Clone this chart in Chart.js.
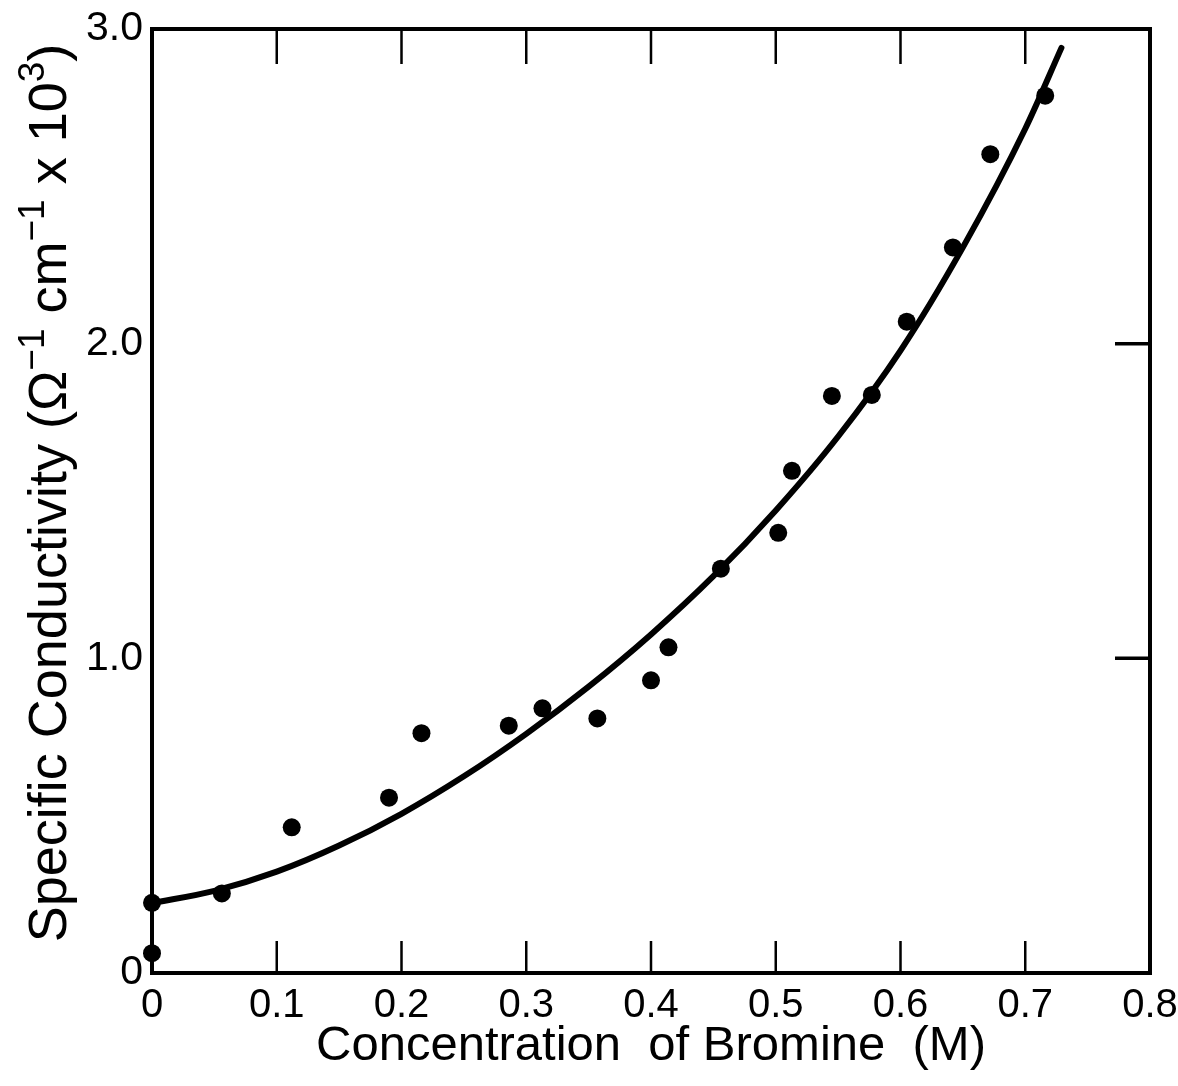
<!DOCTYPE html>
<html>
<head>
<meta charset="utf-8">
<title>Specific Conductivity vs Concentration of Bromine</title>
<script src="https://cdn.jsdelivr.net/npm/chart.js@4/dist/chart.umd.min.js"></script>
<style>
  html, body { margin: 0; padding: 0; background: #fff; }
  canvas { display: block; }
</style>
</head>
<body>
<canvas id="chart" width="1178" height="1086"></canvas>
<script>
// Measured conductivity points (M, Ω⁻¹cm⁻¹ × 10³)
const bromineConc = [0, 0, 0.056, 0.112, 0.190, 0.216, 0.286, 0.313, 0.357, 0.400,
                     0.414, 0.456, 0.502, 0.513, 0.545, 0.577, 0.605, 0.642, 0.672, 0.716];
const conductivity = [0.063, 0.223, 0.253, 0.463, 0.557, 0.762, 0.786, 0.841, 0.809, 0.930,
                      1.035, 1.285, 1.399, 1.596, 1.834, 1.837, 2.070, 2.306, 2.602, 2.788];

// Smooth fitted curve through the data
const fitConc = [0, 0.05, 0.10, 0.15, 0.20, 0.25, 0.30, 0.35, 0.40,
                 0.45, 0.50, 0.55, 0.60, 0.65, 0.70, 0.729];
const fitConductivity = [0.222, 0.261, 0.322, 0.405, 0.506, 0.625, 0.760, 0.910, 1.076,
                         1.261, 1.470, 1.705, 1.978, 2.306, 2.683, 2.940];

const xTickLabels = ['0', '0.1', '0.2', '0.3', '0.4', '0.5', '0.6', '0.7', '0.8'];
const yTickLabels = ['0', '1.0', '2.0', '3.0'];
const xTitle = 'Concentration  of Bromine  (M)';
// y-axis title pieces: [text, isSuperscript]
const yTitleParts = [['Specific Conductivity (Ω', false], ['−1', true], [' cm', false],
                     ['−1', true], [' x 10', false], ['3', true], [')', false]];

const FONT = 'Liberation Sans, Arial, Helvetica, sans-serif';

// Heavy box frame with short inward tick marks (top/bottom at inner x ticks, right at inner y ticks)
const frameAndTicks = {
  id: 'frameAndTicks',
  beforeDatasetsDraw(chart) {
    const { ctx, chartArea: a, scales: { x, y } } = chart;
    ctx.save();
    ctx.strokeStyle = '#000';
    ctx.lineCap = 'butt';
    ctx.lineWidth = 2.5;
    ctx.beginPath();
    x.ticks.forEach((t, i) => {
      if (i === 0 || i === x.ticks.length - 1) return;
      const px = x.getPixelForValue(t.value);
      ctx.moveTo(px, a.bottom); ctx.lineTo(px, a.bottom - 32);
      ctx.moveTo(px, a.top); ctx.lineTo(px, a.top + 35);
    });
    ctx.stroke();
    ctx.lineWidth = 3.5;
    ctx.beginPath();
    y.ticks.forEach((t, i) => {
      if (i === 0 || i === y.ticks.length - 1) return;
      const py = y.getPixelForValue(t.value);
      ctx.moveTo(a.right, py); ctx.lineTo(a.right - 35, py);
    });
    ctx.stroke();
    ctx.lineWidth = 4;
    ctx.lineJoin = 'miter';
    ctx.strokeRect(a.left, a.top, a.right - a.left, a.bottom - a.top);
    ctx.restore();
  }
};

// Rotated y-axis title with raised superscripts
const yAxisTitle = {
  id: 'yAxisTitle',
  afterDraw(chart) {
    const { ctx, chartArea: a } = chart;
    const base = '54px ' + FONT;
    const sup = '37px ' + FONT;
    const raise = 22;
    ctx.save();
    ctx.fillStyle = '#000';
    ctx.textBaseline = 'alphabetic';
    ctx.textAlign = 'left';
    let total = 0;
    const widths = yTitleParts.map(([t, s]) => {
      ctx.font = s ? sup : base;
      const w = ctx.measureText(t).width;
      total += w;
      return w;
    });
    const cy = (a.top + a.bottom) / 2 - 8;
    ctx.translate(66, cy);
    ctx.rotate(-Math.PI / 2);
    let xPos = -total / 2;
    yTitleParts.forEach(([t, s], i) => {
      ctx.font = s ? sup : base;
      ctx.fillText(t, xPos, s ? -raise : 0);
      xPos += widths[i];
    });
    ctx.restore();
  }
};

new Chart(document.getElementById('chart'), {
  type: 'scatter',
  data: {
    datasets: [
      {
        label: 'Measured',
        data: bromineConc.map((c, i) => ({ x: c, y: conductivity[i] })),
        backgroundColor: '#000',
        borderColor: '#000',
        pointRadius: 9,
        pointBorderWidth: 0,
        clip: false,
        order: 1
      },
      {
        label: 'Fit',
        type: 'line',
        data: fitConc.map((c, i) => ({ x: c, y: fitConductivity[i] })),
        borderColor: '#000',
        borderWidth: 6,
        pointRadius: 0,
        fill: false,
        cubicInterpolationMode: 'monotone',
        borderCapStyle: 'round',
        clip: false,
        order: 2
      }
    ]
  },
  options: {
    responsive: false,
    animation: false,
    devicePixelRatio: 1,
    layout: { padding: { top: 29, right: 28, left: 0, bottom: 0 } },
    plugins: {
      legend: { display: false },
      tooltip: { enabled: false }
    },
    scales: {
      x: {
        type: 'linear',
        min: 0,
        max: 0.8,
        border: { display: false },
        grid: { display: false, drawTicks: false },
        ticks: {
          stepSize: 0.1,
          autoSkip: false,
          maxRotation: 0,
          color: '#000',
          padding: 9,
          font: { family: FONT, size: 40 },
          callback: (v, i) => xTickLabels[i]
        },
        title: {
          display: true,
          text: xTitle,
          color: '#000',
          font: { family: FONT, size: 49 },
          padding: { top: 0, bottom: 10 }
        },
        afterFit: (s) => { s.height = 113; s.paddingLeft = 0; s.paddingRight = 0; }
      },
      y: {
        type: 'linear',
        min: 0,
        max: 3,
        border: { display: false },
        grid: { display: false, drawTicks: false },
        ticks: {
          stepSize: 1,
          autoSkip: false,
          color: '#000',
          padding: 9,
          font: { family: FONT, size: 41 },
          callback: (v, i) => yTickLabels[i]
        },
        title: { display: false },
        afterFit: (s) => { s.width = 152; s.paddingTop = 0; s.paddingBottom = 0; }
      }
    }
  },
  plugins: [frameAndTicks, yAxisTitle]
});
</script>
</body>
</html>
